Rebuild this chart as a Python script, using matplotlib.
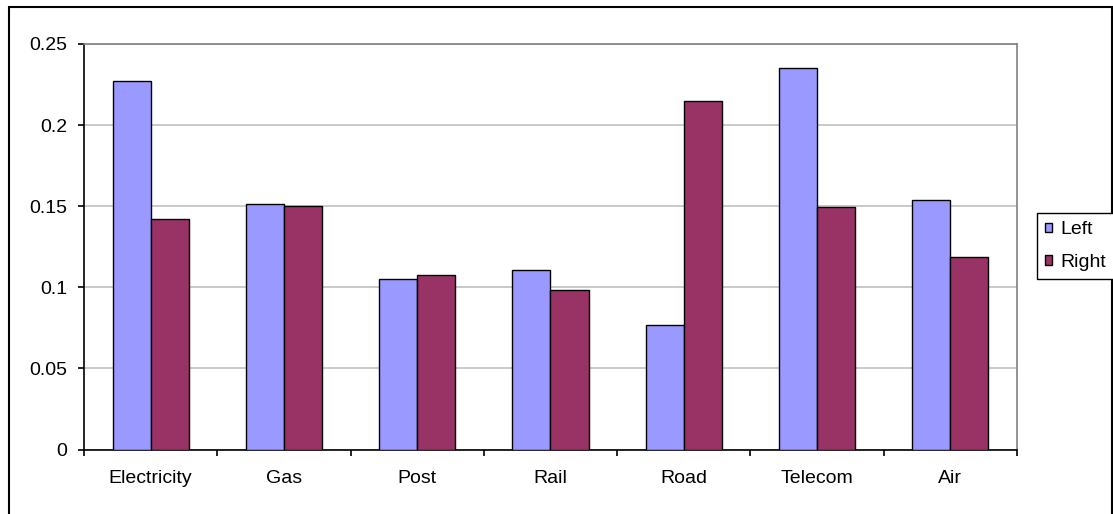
import numpy as np
import matplotlib
matplotlib.use("Agg")
import matplotlib.pyplot as plt
from matplotlib.patches import Rectangle

categories = ['Electricity', 'Gas', 'Post', 'Rail', 'Road', 'Telecom', 'Air']
left_vals = [0.2273, 0.1516, 0.1051, 0.1107, 0.0768, 0.2354, 0.1538]
right_vals = [0.1424, 0.1502, 0.1074, 0.0983, 0.2149, 0.1493, 0.1187]
series_names = ['Left', 'Right']
y_ticks = [0, 0.05, 0.1, 0.15, 0.2, 0.25]
y_labels = ['0', '0.05', '0.1', '0.15', '0.2', '0.25']

plt.rcParams['font.family'] = ['Liberation Sans', 'DejaVu Sans']
plt.rcParams['font.size'] = 14

W, H = 1113, 514
fig = plt.figure(figsize=(W / 100, H / 100), dpi=100)
ax = fig.add_axes([84 / W, 1 - 449.5 / H, (1017 - 84) / W, (449.5 - 44) / H])

# outer chart frame (bottom edge falls outside the image)
fig.patches.append(Rectangle((9 / W, -0.1), (1112 - 9) / W, 1.1 - 7.5 / H,
                             transform=fig.transFigure, fill=False,
                             edgecolor='black', lw=1.5))

x = np.arange(len(categories)) + 0.5
w = 1 / 3.5  # excel gap width 150%
b1 = ax.bar(x - w / 2, left_vals, w, color='#9999FF', edgecolor='black', lw=1.0,
            label=series_names[0], zorder=3)
b2 = ax.bar(x + w / 2, right_vals, w, color='#993366', edgecolor='black', lw=1.0,
            label=series_names[1], zorder=3)

ax.set_xlim(0, len(categories))
ax.set_ylim(0, 0.25)
ax.set_yticks(y_ticks)
ax.set_yticklabels(y_labels)
ax.yaxis.grid(True, color='#C0C0C0', lw=1.2, zorder=0)

ax.set_xticks(np.arange(len(categories) + 1))
ax.set_xticklabels([])
ax.set_xticks(x, minor=True)
ax.set_xticklabels(categories, minor=True)
ax.tick_params(axis='x', which='minor', length=0, pad=15)
ax.tick_params(axis='x', which='major', direction='out', length=4, width=1.2)
ax.tick_params(axis='y', direction='out', length=4, width=1.2, pad=8)

for s in ['left', 'bottom']:
    ax.spines[s].set_color('black')
    ax.spines[s].set_linewidth(1.2)
for s in ['top', 'right']:
    ax.spines[s].set_color('#808080')
    ax.spines[s].set_linewidth(1.2)

leg = fig.legend(handles=[b1, b2], loc='upper left',
                 bbox_to_anchor=(1037 / W, 1 - 213 / H), fancybox=False,
                 edgecolor='black', framealpha=1, handlelength=0.36,
                 handleheight=0.36, handletextpad=0.4, borderpad=0.42,
                 labelspacing=0.82, borderaxespad=0, fontsize=14)
leg.get_frame().set_linewidth(1.0)

fig.savefig('out.png', dpi=100)
